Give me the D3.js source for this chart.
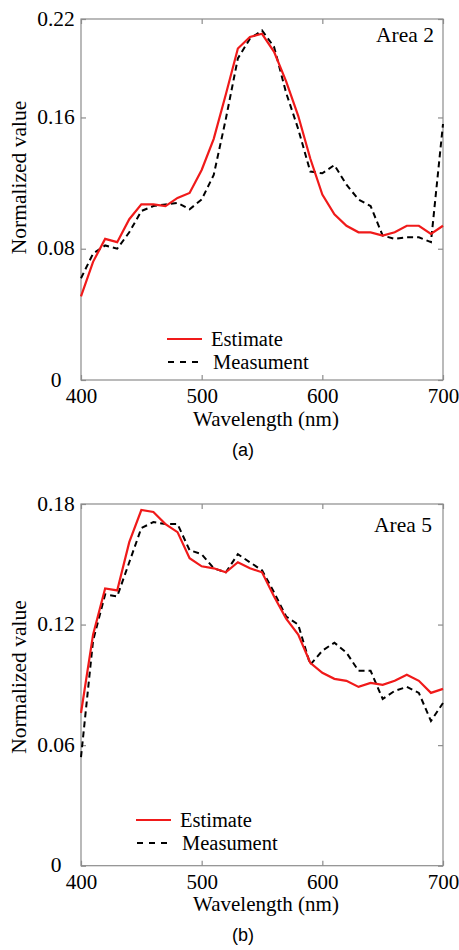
<!DOCTYPE html>
<html>
<head>
<meta charset="utf-8">
<script src="https://cdn.jsdelivr.net/npm/d3@7"></script>
<style>
  body { margin: 0; background: #fff; }
  svg text { font-family: "Liberation Serif", "Times New Roman", serif; fill: #000; }
  .cap { font-family: "Liberation Sans", Arial, sans-serif; }
</style>
</head>
<body>
<div id="chart"></div>
<script>
// wavelengths (nm)
var wavelength = [400, 410, 420, 430, 440, 450, 460, 470, 480, 490, 500, 510, 520, 530, 540, 550,
  560, 570, 580, 590, 600, 610, 620, 630, 640, 650, 660, 670, 680, 690, 700];

// panel (a) - Area 2
var estimateA = [0.051, 0.072, 0.086, 0.084, 0.098, 0.107, 0.107, 0.106, 0.111, 0.114, 0.128, 0.147,
  0.174, 0.202, 0.209, 0.211, 0.200, 0.182, 0.161, 0.135, 0.113, 0.101, 0.094, 0.090, 0.090, 0.088,
  0.090, 0.094, 0.094, 0.089, 0.094];
var measureA = [0.062, 0.077, 0.082, 0.080, 0.090, 0.103, 0.106, 0.107, 0.108, 0.104, 0.110, 0.125,
  0.159, 0.196, 0.208, 0.213, 0.203, 0.175, 0.153, 0.127, 0.126, 0.131, 0.119, 0.110, 0.106, 0.088,
  0.086, 0.087, 0.087, 0.084, 0.156];

// panel (b) - Area 5
var estimateB = [0.076, 0.115, 0.138, 0.137, 0.161, 0.177, 0.176, 0.170, 0.166, 0.153, 0.149, 0.148,
  0.146, 0.151, 0.148, 0.146, 0.134, 0.123, 0.115, 0.101, 0.096, 0.093, 0.092, 0.089, 0.091, 0.090,
  0.092, 0.095, 0.092, 0.086, 0.088];
var measureB = [0.054, 0.112, 0.135, 0.134, 0.151, 0.168, 0.171, 0.170, 0.170, 0.157, 0.155, 0.148,
  0.146, 0.155, 0.151, 0.147, 0.136, 0.124, 0.120, 0.100, 0.107, 0.111, 0.106, 0.097, 0.097, 0.083,
  0.087, 0.089, 0.086, 0.072, 0.081];

var xTicks = [400, 500, 600, 700];
var yTicksA = [0, 0.08, 0.16, 0.22];
var yTicksB = [0, 0.06, 0.12, 0.18];
var seriesNames = ["Estimate", "Measument"];

var svg = d3.select("#chart").append("svg")
  .attr("width", 459)
  .attr("height", 950);

var left = 81, right = 443;

var x = d3.scaleLinear().domain([400, 700]).range([left, right]);

function drawPanel(opt) {
  var y = d3.scaleLinear().domain([0, opt.ymax]).range([opt.bottom, opt.top]);
  var g = svg.append("g");

  // frame
  g.append("rect")
    .attr("x", left).attr("y", opt.top)
    .attr("width", right - left).attr("height", opt.bottom - opt.top)
    .attr("fill", "none").attr("stroke", "#8c8c8c").attr("stroke-width", 1.2);

  // inward ticks on all four sides
  var axes = [
    [d3.axisBottom(x).tickValues(xTicks), `translate(0,${opt.bottom})`],
    [d3.axisTop(x).tickValues(xTicks).tickFormat(""), `translate(0,${opt.top})`],
    [d3.axisLeft(y).tickValues(opt.yticks), `translate(${left},0)`],
    [d3.axisRight(y).tickValues(opt.yticks).tickFormat(""), `translate(${right},0)`]
  ];
  var ax = axes.map(function (a) {
    var s = g.append("g")
      .attr("transform", a[1])
      .call(a[0].tickSizeInner(-5).tickSizeOuter(0));
    s.select(".domain").remove();
    s.selectAll(".tick line").attr("stroke", "#8c8c8c").attr("stroke-width", 1.2);
    return s;
  });

  ax[0].selectAll("text")
    .attr("y", 23).attr("dy", null)
    .style("font-size", "21px");
  ax[2].selectAll("text")
    .text(d => d === 0 ? "0" : d.toFixed(2))
    .attr("text-anchor", "middle")
    .attr("x", -25).attr("dy", null).attr("y", 6)
    .style("font-size", "21.5px");

  var line = d3.line()
    .x((d, i) => x(wavelength[i]))
    .y(d => y(d));

  g.append("path").datum(opt.measure)
    .attr("fill", "none").attr("stroke", "#000").attr("stroke-width", 2)
    .attr("stroke-dasharray", "6,4")
    .attr("d", line);
  g.append("path").datum(opt.estimate)
    .attr("fill", "none").attr("stroke", "#f01a1a").attr("stroke-width", 2.2)
    .attr("d", line);

  // axis titles
  g.append("text")
    .attr("x", (left + right) / 2 + 4).attr("y", opt.bottom + 45.5)
    .attr("text-anchor", "middle").style("font-size", "21px")
    .text("Wavelength (nm)");
  g.append("text")
    .attr("transform", `translate(26,${opt.ylabelY}) rotate(-90)`)
    .attr("text-anchor", "middle").style("font-size", "21.5px")
    .text("Normalized value");

  // area label
  g.append("text")
    .attr("x", opt.areaX).attr("y", opt.areaY)
    .attr("text-anchor", "end").style("font-size", "21.5px")
    .text(opt.area);

  // legend
  var lg = opt.legend;
  g.append("line")
    .attr("x1", lg.x).attr("x2", lg.x + 35).attr("y1", lg.y).attr("y2", lg.y)
    .attr("stroke", "#f01a1a").attr("stroke-width", 2.2);
  g.append("line")
    .attr("x1", lg.x + 1).attr("x2", lg.x + 34).attr("y1", lg.y + 23).attr("y2", lg.y + 23)
    .attr("stroke", "#000").attr("stroke-width", 2).attr("stroke-dasharray", "6,6");
  g.append("text")
    .attr("x", lg.x + 44).attr("y", lg.y + 7)
    .style("font-size", "20.5px").text(seriesNames[0]);
  g.append("text")
    .attr("x", lg.x + 46).attr("y", lg.y + 30)
    .style("font-size", "20.5px").text(seriesNames[1]);

  // caption
  g.append("text").attr("class", "cap")
    .attr("x", 243).attr("y", opt.capY)
    .attr("text-anchor", "middle").style("font-size", "18px")
    .text(opt.caption);
}

drawPanel({
  top: 19, bottom: 380, ymax: 0.22, yticks: yTicksA,
  estimate: estimateA, measure: measureA,
  ylabelY: 177.5, area: "Area 2", areaX: 434, areaY: 41.5,
  legend: { x: 167, y: 339 }, caption: "(a)", capY: 456
});

drawPanel({
  top: 504, bottom: 865.7, ymax: 0.18, yticks: yTicksB,
  estimate: estimateB, measure: measureB,
  ylabelY: 677, area: "Area 5", areaX: 432, areaY: 531.5,
  legend: { x: 136, y: 820 }, caption: "(b)", capY: 941
});
</script>
</body>
</html>
